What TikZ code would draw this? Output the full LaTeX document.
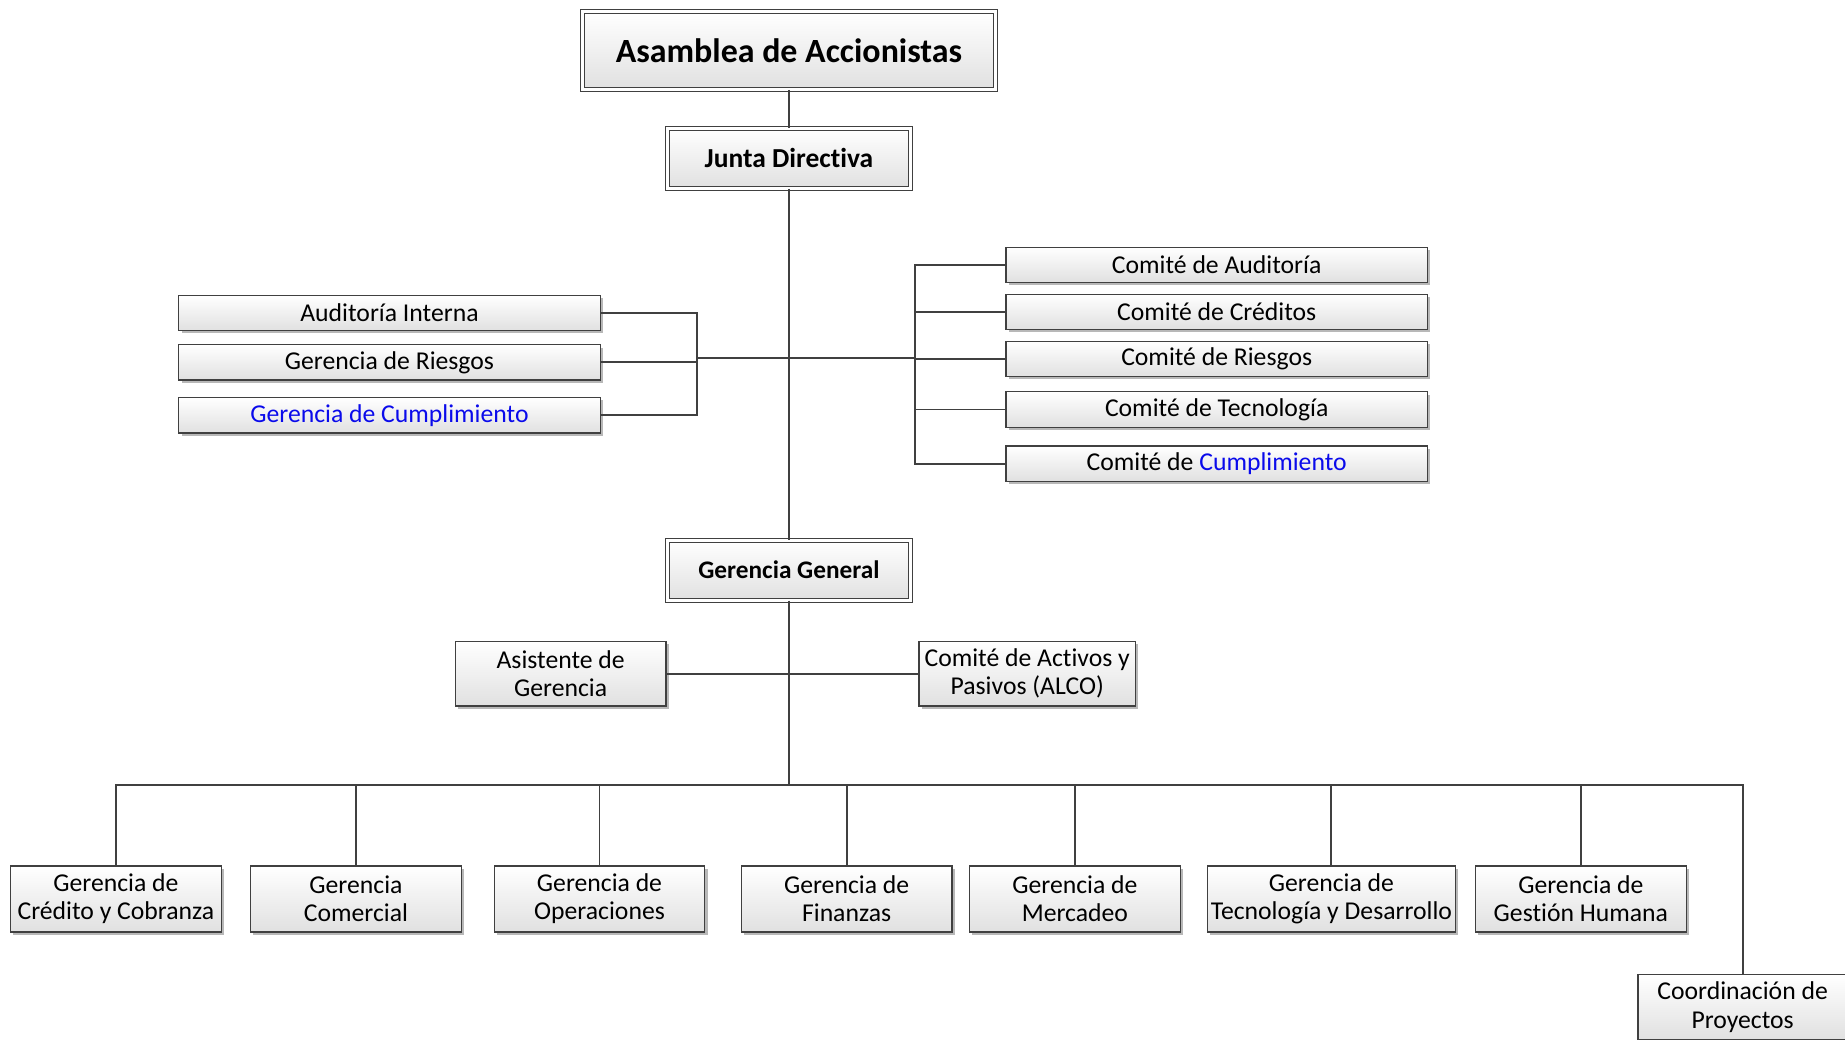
\documentclass[tikz,border=0pt]{standalone}
\usepackage{fontspec}
\setmainfont{Carlito}[Ligatures=NoCommon]
\usetikzlibrary{shadows}
\definecolor{cblue}{RGB}{10,10,235}
\definecolor{edge}{RGB}{64,64,64}
\tikzset{
  box/.style 2 args={draw=edge, line width=0.6pt, top color=white, bottom color=black!12,
    minimum width=#1*0.6pt, minimum height=#2*0.6pt, inner sep=0pt, align=center,
    font=\fontsize{13.1}{14.4}\selectfont,
    general shadow={fill=black!28, shadow xshift=1.4pt, shadow yshift=-1.4pt}},
  dbox/.style 2 args={box={#1}{#2}, double=white, double distance=1.6pt, line width=0.5pt},
  conn/.style={draw=edge, line width=1pt},
}
\begin{document}
\begin{tikzpicture}[x=0.6pt, y=-0.6pt]
\useasboundingbox (0,0) rectangle (1568,883);
\clip (0,0) rectangle (1568,883);
% top
\node[dbox={351}{66}, font=\fontsize{17.3}{20}\selectfont\bfseries] (asam) at (670.5,43) {Asamblea de Accionistas};
\node[dbox={207}{51}, font=\fontsize{14}{16}\selectfont\bfseries] (junta) at (670.5,134.5) {Junta Directiva};
\node[dbox={207}{51}, font=\fontsize{12.9}{15}\selectfont\bfseries] (gg) at (670.5,484.5) {Gerencia General};
% left group
\node[box={358}{30}] (ai) at (331,266) {Auditoría Interna};
\node[box={358}{30}] (gr) at (331,308) {Gerencia de Riesgos};
\node[box={358}{30}, text=cblue] (gc) at (331,353) {Gerencia de Cumplimiento};
% right group
\node[box={358}{30}] (ca) at (1034,225) {Comité de Auditoría};
\node[box={358}{30}] (cc) at (1034,265) {Comité de Créditos};
\node[box={358}{30}] (cr) at (1034,305) {Comité de Riesgos};
\node[box={358}{30}] (ct) at (1034,348) {Comité de Tecnología};
\node[box={358}{30}] (ccu) at (1034,394) {Comité de \textcolor{cblue}{Cumplimiento}};
% staff
\node[box={179}{55}] (asis) at (476.5,572.5) {Asistente de\\Gerencia};
\node[box={184}{55}] (alco) at (873,572.5) {Comité de Activos y\\Pasivos (ALCO)};
% bottom row
\node[box={179}{56}] (b1) at (98.5,764) {Gerencia de\\Crédito y Cobranza};
\node[box={179}{56}] (b2) at (302.5,764) {Gerencia\\Comercial};
\node[box={179}{56}] (b3) at (509.5,764) {Gerencia de\\Operaciones};
\node[box={179}{56}] (b4) at (719.5,764) {Gerencia de\\Finanzas};
\node[box={179}{56}] (b5) at (913.5,764) {Gerencia de\\Mercadeo};
\node[box={211}{56}] (b6) at (1131.5,764) {Gerencia de\\Tecnología y Desarrollo};
\node[box={179}{56}] (b7) at (1343.5,764) {Gerencia de\\Gestión Humana};
\node[box={178}{55}] (coord) at (1481,856) {Coordinación de\\Proyectos};
% helper coordinates
\coordinate (lb) at (592,304);
\coordinate (rb) at (778,304);
\coordinate (bus) at (670.5,667);
% connectors
\draw[conn] (asam.south) -- (junta.north);
\draw[conn] (junta.south) -- (gg.north);
\draw[conn] (ai.east) -- (ai.east -| lb) -- (gc.east -| lb) -- (gc.east);
\draw[conn] (gr.east) -- (gr.east -| lb);
\draw[conn] (lb) -- (lb -| junta.south);
\draw[conn] (ca.west) -- (ca.west -| rb) -- (ccu.west -| rb) -- (ccu.west);
\draw[conn] (cc.west) -- (cc.west -| rb);
\draw[conn] (cr.west) -- (cr.west -| rb);
\draw[conn] (ct.west) -- (ct.west -| rb);
\draw[conn] (rb) -- (rb -| junta.south);
\draw[conn] (gg.south) -- (bus);
\draw[conn] (asis.east) -- (alco.west);
\draw[conn] (b1.north) -- (b1.north |- bus) -- (coord.north |- bus) -- (coord.north);
\foreach \n in {b2,b3,b4,b5,b6,b7} \draw[conn] (\n.north) -- (\n.north |- bus);
\end{tikzpicture}
\end{document}
